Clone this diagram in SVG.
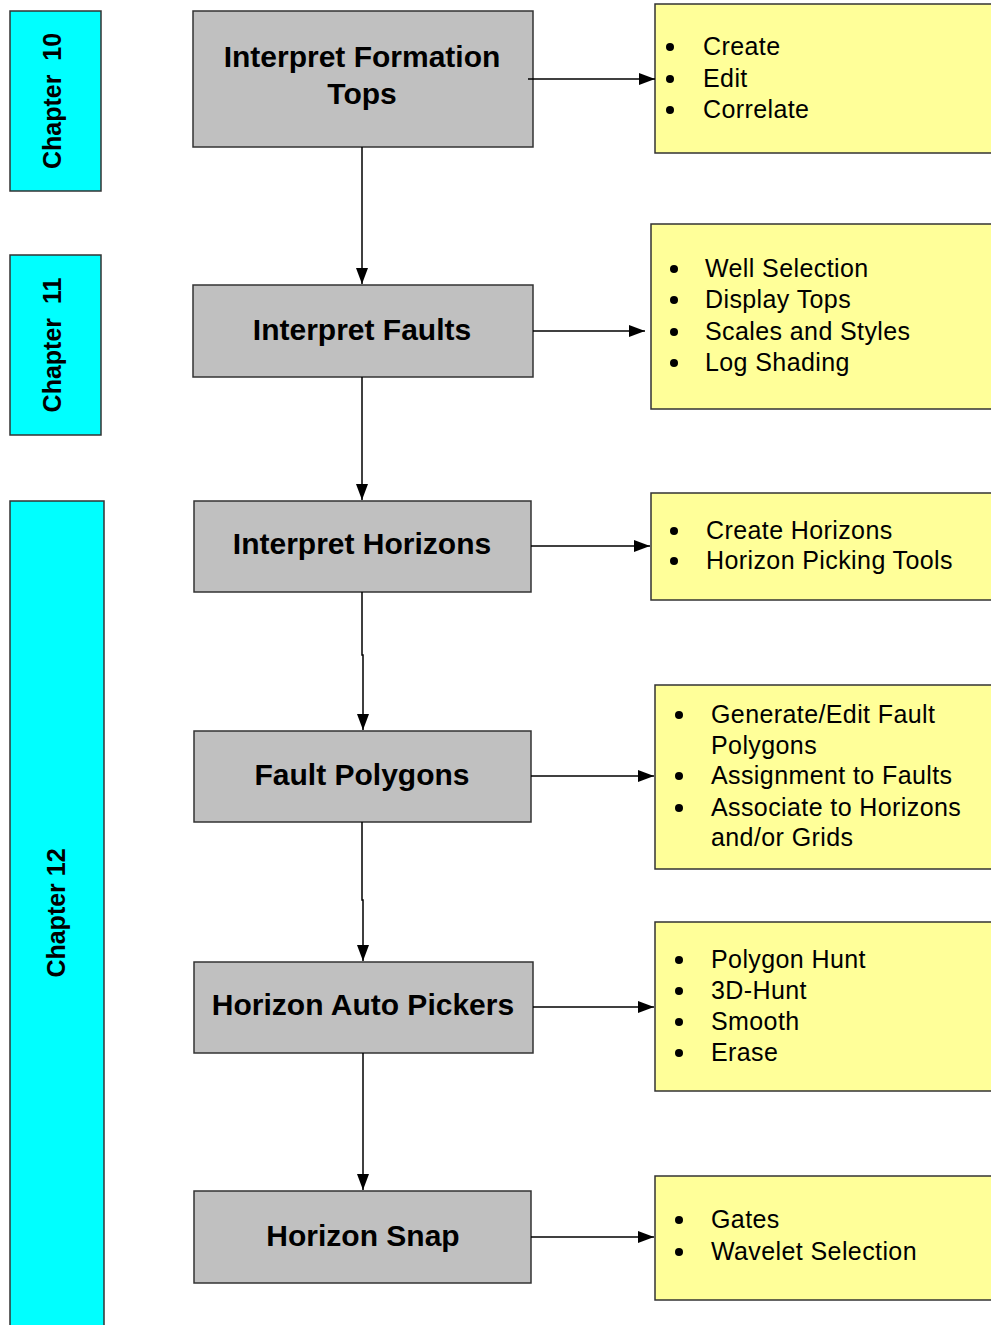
<svg xmlns="http://www.w3.org/2000/svg" width="991" height="1325" viewBox="0 0 991 1325">
<style>
.ch{fill:#00ffff;stroke:#333;stroke-width:1.5}
.gb{fill:#c0c0c0;stroke:#333;stroke-width:1.5}
.yb{fill:#ffff99;stroke:#333;stroke-width:1.5}
.cht{font-family:"Liberation Sans",Arial,sans-serif;font-weight:bold;font-size:25px;fill:#000;white-space:pre}
.gt{font-family:"Liberation Sans",Arial,sans-serif;font-weight:bold;font-size:30px;fill:#000;text-anchor:middle}
.yt{font-family:"Liberation Sans",Arial,sans-serif;font-size:25px;letter-spacing:0.4px;fill:#000}
.ln{stroke:#000;stroke-width:1.5;fill:none;marker-end:url(#ah)}
circle{fill:#000}
</style>
<defs>
<marker id="ah" viewBox="0 0 16 12" refX="16" refY="6" markerWidth="16" markerHeight="12" markerUnits="userSpaceOnUse" orient="auto">
<path d="M0,0 L16,6 L0,12 Z" fill="#000"/>
</marker>
</defs>
<rect width="991" height="1325" fill="#fff"/>
<g id="chapter10"><rect class="ch" x="10" y="11" width="91" height="180"/><text class="cht" transform="translate(61,101) rotate(-90)" text-anchor="middle">Chapter  10</text></g>
<g id="chapter11"><rect class="ch" x="10" y="255" width="91" height="180"/><text class="cht" transform="translate(61,345) rotate(-90)" text-anchor="middle">Chapter  11</text></g>
<g id="chapter12"><rect class="ch" x="10" y="501" width="94" height="830"/><text class="cht" transform="translate(65,913) rotate(-90)" text-anchor="middle">Chapter 12</text></g>

<g id="n1"><rect class="gb" x="193" y="11" width="340" height="136"/><text class="gt" x="362" y="67">Interpret Formation</text><text class="gt" x="362" y="104">Tops</text></g>
<g id="n2"><rect class="gb" x="193" y="285" width="340" height="92"/><text class="gt" x="362" y="340">Interpret Faults</text></g>
<g id="n3"><rect class="gb" x="194" y="501" width="337" height="91"/><text class="gt" x="362" y="554">Interpret Horizons</text></g>
<g id="n4"><rect class="gb" x="194" y="731" width="337" height="91"/><text class="gt" x="362" y="785">Fault Polygons</text></g>
<g id="n5"><rect class="gb" x="194" y="962" width="339" height="91"/><text class="gt" x="363" y="1015">Horizon Auto Pickers</text></g>
<g id="n6"><rect class="gb" x="194" y="1191" width="337" height="92"/><text class="gt" x="363" y="1246">Horizon Snap</text></g>

<g id="y1"><rect class="yb" x="655" y="4" width="340" height="149"/>
<circle cx="670" cy="47" r="4"/><circle cx="670" cy="79" r="4"/><circle cx="670" cy="110" r="4"/>
<text class="yt" x="703" y="55">Create</text><text class="yt" x="703" y="87">Edit</text><text class="yt" x="703" y="118">Correlate</text></g>
<g id="y2"><rect class="yb" x="651" y="224" width="344" height="185"/>
<circle cx="674" cy="269" r="4"/><circle cx="674" cy="300" r="4"/><circle cx="674" cy="332" r="4"/><circle cx="674" cy="363" r="4"/>
<text class="yt" x="705" y="277">Well Selection</text><text class="yt" x="705" y="308">Display Tops</text><text class="yt" x="705" y="340">Scales and Styles</text><text class="yt" x="705" y="371">Log Shading</text></g>
<g id="y3"><rect class="yb" x="651" y="493" width="344" height="107"/>
<circle cx="674" cy="531" r="4"/><circle cx="674" cy="561" r="4"/>
<text class="yt" x="706" y="539">Create Horizons</text><text class="yt" x="706" y="569">Horizon Picking Tools</text></g>
<g id="y4"><rect class="yb" x="655" y="685" width="340" height="184"/>
<circle cx="679" cy="715" r="4"/><circle cx="679" cy="776" r="4"/><circle cx="679" cy="808" r="4"/>
<text class="yt" x="711" y="723">Generate/Edit Fault</text><text class="yt" x="711" y="754">Polygons</text><text class="yt" x="711" y="784">Assignment to Faults</text><text class="yt" x="711" y="816">Associate to Horizons</text><text class="yt" x="711" y="846">and/or Grids</text></g>
<g id="y5"><rect class="yb" x="655" y="922" width="340" height="169"/>
<circle cx="679" cy="960" r="4"/><circle cx="679" cy="991" r="4"/><circle cx="679" cy="1022" r="4"/><circle cx="679" cy="1053" r="4"/>
<text class="yt" x="711" y="968">Polygon Hunt</text><text class="yt" x="711" y="999">3D-Hunt</text><text class="yt" x="711" y="1030">Smooth</text><text class="yt" x="711" y="1061">Erase</text></g>
<g id="y6"><rect class="yb" x="655" y="1176" width="340" height="124"/>
<circle cx="679" cy="1220" r="4"/><circle cx="679" cy="1252" r="4"/>
<text class="yt" x="711" y="1228">Gates</text><text class="yt" x="711" y="1260">Wavelet Selection</text></g>

<g id="connectors">
<path class="ln" d="M528,79 H655"/>
<path class="ln" d="M533,331 H645"/>
<path class="ln" d="M531,546 H650"/>
<path class="ln" d="M531,776 H654"/>
<path class="ln" d="M533,1007 H654"/>
<path class="ln" d="M531,1237 H654"/>
<path class="ln" d="M362,147 V284"/>
<path class="ln" d="M362,377 V500"/>
<path class="ln" d="M362,592 V655 H363 V730"/>
<path class="ln" d="M362,822 V900 H363 V961"/>
<path class="ln" d="M363,1053 V1190"/>
</g>
</svg>
